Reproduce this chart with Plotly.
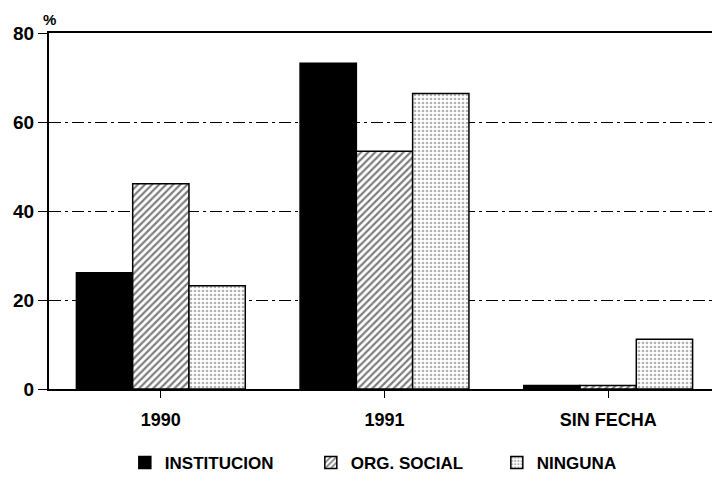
import plotly.graph_objects as go

categories = ["1990", "1991", "SIN FECHA"]
institucion = [26.1, 73.2, 0.8]
org_social = [46.1, 53.4, 0.8]
ninguna = [23.2, 66.4, 11.2]
y_ticks = [0, 20, 40, 60, 80]

FONT = "Liberation Sans"

fig = go.Figure()
fig.add_trace(go.Bar(
    x=categories, y=institucion, name="INSTITUCION",
    marker=dict(color="black", line=dict(color="black", width=1.5)),
))
fig.add_trace(go.Bar(
    x=categories, y=org_social, name="ORG. SOCIAL",
    marker=dict(color="white", line=dict(color="black", width=1.5),
                pattern=dict(shape="/", fgcolor="black", bgcolor="white",
                             size=5, solidity=0.45)),
))
fig.add_trace(go.Bar(
    x=categories, y=ninguna, name="NINGUNA",
    marker=dict(color="white", line=dict(color="black", width=1.5),
                pattern=dict(shape=".", fgcolor="#666666", bgcolor="white",
                             size=4, solidity=0.35)),
))

fig.update_layout(
    width=720, height=486,
    margin=dict(l=41, r=8, t=25, b=105, autoexpand=False),
    paper_bgcolor="white", plot_bgcolor="white",
    barmode="group", bargap=0.245, bargroupgap=0,
    font=dict(family=FONT, color="black", weight="bold"),
    showlegend=True,
    legend=dict(orientation="h", x=0.113, xanchor="left", y=-0.208,
                yanchor="middle", font=dict(size=17, family=FONT, weight="bold"),
                itemwidth=30, entrywidth=141, entrywidthmode="pixels",
                tracegroupgap=0),
    xaxis=dict(
        range=[-0.5, 2.5], showline=True, linecolor="black", linewidth=2,
        mirror=True, ticks="outside", ticklen=7, tickcolor="black",
        tickfont=dict(size=18, family=FONT, weight="bold"), showgrid=False,
        automargin=False, ticklabelstandoff=6,
    ),
    yaxis=dict(
        range=[0, 80], tickvals=y_ticks, showline=True, linecolor="black",
        linewidth=2, ticks="outside", ticklen=9, tickcolor="black",
        tickfont=dict(size=19, family=FONT, weight="bold"),
        showgrid=True, gridcolor="black", gridwidth=1,
        griddash="12px,4px,3px,4px", zeroline=False, automargin=False,
    ),
    annotations=[dict(
        text="%", xref="paper", yref="paper", x=0.0, y=1.0, yshift=3,
        xanchor="center", yanchor="bottom", showarrow=False,
        font=dict(size=15, family=FONT, weight="bold"),
    )],
)

fig.write_html("out.html")
